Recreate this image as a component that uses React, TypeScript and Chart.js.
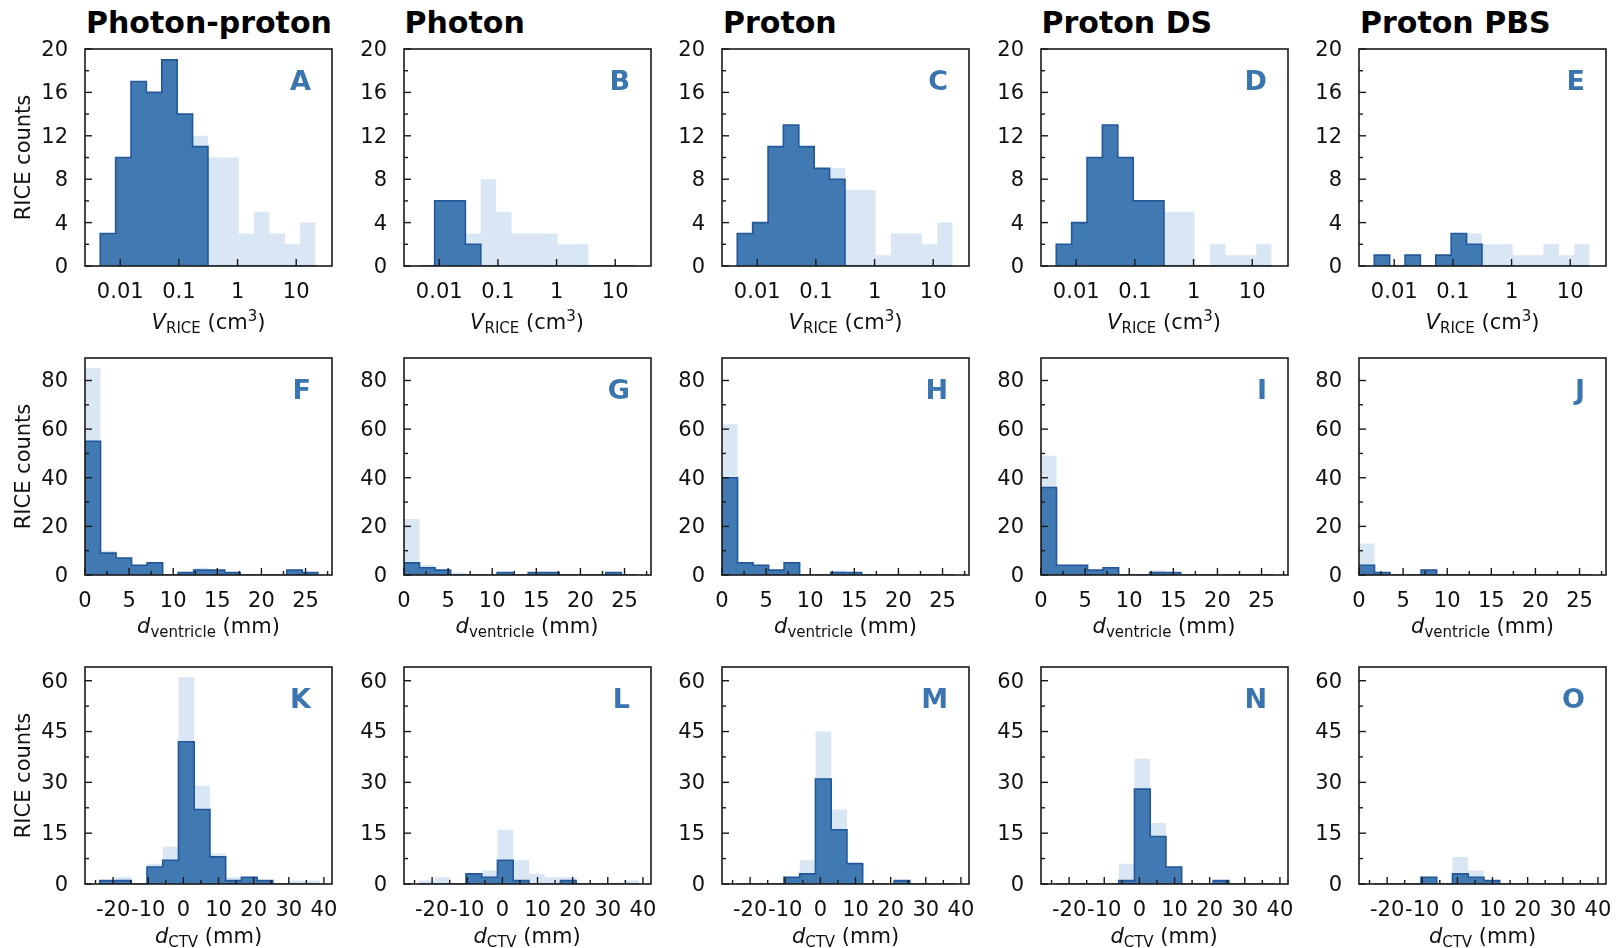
import React, { useEffect, useRef } from "react";
import { Chart, registerables } from "chart.js";
Chart.register(...registerables);

// ---------- text ----------
const panelTitles = ["Photon-proton", "Photon", "Proton", "Proton DS", "Proton PBS"];
const panelLetters = [
  ["A", "B", "C", "D", "E"],
  ["F", "G", "H", "I", "J"],
  ["K", "L", "M", "N", "O"],
];
const yAxisTitle = "RICE counts";

// ---------- row 1 : V_RICE (cm3), log bins ----------
const volumeBinEdges = [0.00457, 0.00836, 0.0153, 0.0279, 0.0511, 0.0935, 0.171, 0.313, 0.572, 1.045, 1.91, 3.49, 6.4, 11.7, 21.4];
const volumeAllA = [3, 10, 17, 16, 19, 14, 12, 10, 10, 3, 5, 3, 2, 4];
const volumeSubA = [3, 10, 17, 16, 19, 14, 11, 0, 0, 0, 0, 0, 0, 0];
const volumeAllB = [0, 6, 6, 3, 8, 5, 3, 3, 3, 2, 2, 0, 0, 0];
const volumeSubB = [0, 6, 6, 2, 0, 0, 0, 0, 0, 0, 0, 0, 0, 0];
const volumeAllC = [3, 4, 11, 13, 11, 9, 9, 7, 7, 1, 3, 3, 2, 4];
const volumeSubC = [3, 4, 11, 13, 11, 9, 8, 0, 0, 0, 0, 0, 0, 0];
const volumeAllD = [2, 4, 10, 13, 10, 6, 6, 5, 5, 0, 2, 1, 1, 2];
const volumeSubD = [2, 4, 10, 13, 10, 6, 6, 0, 0, 0, 0, 0, 0, 0];
const volumeAllE = [1, 0, 1, 0, 1, 3, 3, 2, 2, 1, 1, 2, 1, 2];
const volumeSubE = [1, 0, 1, 0, 1, 3, 2, 0, 0, 0, 0, 0, 0, 0];

// ---------- row 2 : d_ventricle (mm) ----------
const ventricleBinEdges = [0, 1.76, 3.52, 5.28, 7.04, 8.8, 10.56, 12.32, 14.08, 15.84, 17.6, 19.36, 21.12, 22.88, 24.64, 26.4];
const ventricleAllF = [85, 10, 7, 4, 5, 0, 1, 3, 2, 1, 0, 0, 0, 2, 1];
const ventricleSubF = [55, 9, 7, 4, 5, 0, 1, 2, 2, 1, 0, 0, 0, 2, 1];
const ventricleAllG = [23, 4, 2, 1, 0, 0, 1, 0, 1, 1, 0, 0, 0, 1, 0];
const ventricleSubG = [5, 3, 2, 0, 0, 0, 1, 0, 1, 1, 0, 0, 0, 1, 0];
const ventricleAllH = [62, 5, 4, 2, 5, 0, 0, 2, 1, 0, 0, 0, 0, 0, 0];
const ventricleSubH = [40, 5, 4, 2, 5, 0, 0, 1, 1, 0, 0, 0, 0, 0, 0];
const ventricleAllI = [49, 4, 4, 2, 3, 0, 0, 2, 1, 0, 0, 0, 0, 0, 0];
const ventricleSubI = [36, 4, 4, 2, 3, 0, 0, 1, 1, 0, 0, 0, 0, 0, 0];
const ventricleAllJ = [13, 1, 0, 0, 2, 0, 0, 0, 0, 0, 0, 0, 0, 0, 0];
const ventricleSubJ = [4, 1, 0, 0, 2, 0, 0, 0, 0, 0, 0, 0, 0, 0, 0];

// ---------- row 3 : d_CTV (mm) ----------
const ctvBinEdges = [-23.8, -19.32, -14.84, -10.36, -5.88, -1.4, 3.08, 7.56, 12.04, 16.52, 21.0, 25.48, 29.96, 34.44, 38.92];
const ctvAllK = [1, 2, 0, 6, 11, 61, 29, 9, 2, 2, 1, 0, 1, 1];
const ctvSubK = [1, 1, 0, 5, 7, 42, 22, 8, 1, 2, 1, 0, 0, 0];
const ctvAllL = [1, 2, 0, 3, 4, 16, 7, 3, 2, 2, 0, 0, 0, 1];
const ctvSubL = [0, 0, 0, 3, 2, 7, 1, 0, 0, 1, 0, 0, 0, 0];
const ctvAllM = [0, 0, 0, 2, 7, 45, 22, 6, 0, 0, 1, 0, 0, 0];
const ctvSubM = [0, 0, 0, 2, 3, 31, 16, 6, 0, 0, 1, 0, 0, 0];
const ctvAllN = [0, 0, 0, 0, 6, 37, 18, 5, 0, 0, 1, 0, 0, 0];
const ctvSubN = [0, 0, 0, 0, 1, 28, 14, 5, 0, 0, 1, 0, 0, 0];
const ctvAllO = [0, 0, 0, 2, 0, 8, 4, 1, 0, 0, 0, 0, 0, 0];
const ctvSubO = [0, 0, 0, 2, 0, 3, 2, 1, 0, 0, 0, 0, 0, 0];

// ---------- axes ----------
const volumeTicks = [0.01, 0.1, 1, 10];
const volumeTickLabels = ["0.01", "0.1", "1", "10"];
const ventricleTicks = [0, 5, 10, 15, 20, 25];
const ventricleMinorTicks = [2.5, 7.5, 12.5, 17.5, 22.5, 27.5];
const ctvTicks = [-20, -10, 0, 10, 20, 30, 40];
const ctvMinorTicks = [-25, -15, -5, 5, 15, 25, 35];
const countTicksRow1 = [0, 4, 8, 12, 16, 20];
const countMinorRow1 = [2, 6, 10, 14, 18];
const countTicksRow2 = [0, 20, 40, 60, 80];
const countMinorRow2 = [10, 30, 50, 70];
const countTicksRow3 = [0, 15, 30, 45, 60];
const countMinorRow3 = [7.5, 22.5, 37.5, 52.5];

const allCounts = [
  [volumeAllA, volumeAllB, volumeAllC, volumeAllD, volumeAllE],
  [ventricleAllF, ventricleAllG, ventricleAllH, ventricleAllI, ventricleAllJ],
  [ctvAllK, ctvAllL, ctvAllM, ctvAllN, ctvAllO],
];
const subCounts = [
  [volumeSubA, volumeSubB, volumeSubC, volumeSubD, volumeSubE],
  [ventricleSubF, ventricleSubG, ventricleSubH, ventricleSubI, ventricleSubJ],
  [ctvSubK, ctvSubL, ctvSubM, ctvSubN, ctvSubO],
];

const rows = [
  {
    edges: volumeBinEdges, xType: "logarithmic", xMin: 0.00251, xMax: 40.7,
    xTicks: volumeTicks, xLabels: volumeTickLabels, xMinor: [] as number[],
    yMax: 20, yTicks: countTicksRow1, yMinor: countMinorRow1, labelOffset: 50,
  },
  {
    edges: ventricleBinEdges, xType: "linear", xMin: 0, xMax: 28,
    xTicks: ventricleTicks, xLabels: ventricleTicks.map(String), xMinor: ventricleMinorTicks,
    yMax: 89.25, yTicks: countTicksRow2, yMinor: countMinorRow2, labelOffset: 51,
  },
  {
    edges: ctvBinEdges, xType: "linear", xMin: -28, xMax: 42.3,
    xTicks: ctvTicks, xLabels: ctvTicks.map(String), xMinor: ctvMinorTicks,
    yMax: 64.05, yTicks: countTicksRow3, yMinor: countMinorRow3, labelOffset: 52,
  },
];

// ---------- style ----------
const FONT = '"DejaVu Sans", "Noto Sans", sans-serif';
const DARK_FILL = "#4179b2";
const DARK_EDGE = "#22579a";
const LIGHT_FILL = "#d9e6f3";
const LETTER_COLOR = "#3a75b0";
const TICK_SIZE = 21;
const LABEL_SIZE = 21;

const PLOT_W = 247;
const PLOT_H = 217;
const PLOT_LEFT0 = 85;
const COL_STEP = 318.5;
const PLOT_TOP0 = 49;
const ROW_STEP = 309;
const CL = 75, CT = 34, CR = 25, CB = 45;

function stepPoints(edges: number[], counts: number[]) {
  const pts: { x: number; y: number }[] = [{ x: edges[0], y: 0 }];
  counts.forEach((c, i) => {
    pts.push({ x: edges[i], y: c });
    pts.push({ x: edges[i + 1], y: c });
  });
  pts.push({ x: edges[edges.length - 1], y: 0 });
  return pts;
}

const decorPlugin = {
  id: "decor",
  afterDatasetsDraw(chart: any, _args: any, opts: any) {
    const { ctx, chartArea: a } = chart;
    const x = chart.scales.x;
    const y = chart.scales.y;
    ctx.save();
    ctx.strokeStyle = "#1a1a1a";
    ctx.lineWidth = 1.4;
    const drawX = (vals: number[], len: number) => {
      vals.forEach((v) => {
        const px = x.getPixelForValue(v);
        if (px < a.left - 0.5 || px > a.right + 0.5) return;
        ctx.beginPath();
        ctx.moveTo(px, a.bottom);
        ctx.lineTo(px, a.bottom - len);
        ctx.stroke();
      });
    };
    const drawY = (vals: number[], len: number) => {
      vals.forEach((v) => {
        const py = y.getPixelForValue(v);
        if (py < a.top - 0.5 || py > a.bottom + 0.5) return;
        ctx.beginPath();
        ctx.moveTo(a.left, py);
        ctx.lineTo(a.left + len, py);
        ctx.stroke();
      });
    };
    drawX(opts.xMajor, 7);
    drawX(opts.xMinor, 4);
    drawY(opts.yMajor, 7);
    drawY(opts.yMinor, 4);
    ctx.lineWidth = 1.6;
    ctx.strokeRect(a.left, a.top, a.right - a.left, a.bottom - a.top);
    ctx.fillStyle = LETTER_COLOR;
    ctx.font = `bold 27px ${FONT}`;
    ctx.textAlign = "right";
    ctx.textBaseline = "alphabetic";
    ctx.fillText(opts.letter, a.right - 21, a.top + 40.5);
    ctx.restore();
  },
};

function Panel({ r, c }: { r: number; c: number }) {
  const ref = useRef<HTMLCanvasElement>(null);
  const row = rows[r];
  const W = CL + PLOT_W + CR;
  const H = CT + PLOT_H + CB;
  const left = PLOT_LEFT0 + COL_STEP * c - CL;
  const top = PLOT_TOP0 + ROW_STEP * r - CT;

  useEffect(() => {
    const chart = new Chart(ref.current as HTMLCanvasElement, {
      type: "scatter",
      data: {
        datasets: [
          {
            data: stepPoints(row.edges, subCounts[r][c]),
            showLine: true,
            fill: "origin",
            backgroundColor: DARK_FILL,
            borderColor: DARK_EDGE,
            borderWidth: 1.6,
            pointRadius: 0,
            pointHoverRadius: 0,
            tension: 0,
            order: 1,
          },
          {
            data: stepPoints(row.edges, allCounts[r][c]),
            showLine: true,
            fill: "origin",
            backgroundColor: LIGHT_FILL,
            borderColor: LIGHT_FILL,
            borderWidth: 0,
            pointRadius: 0,
            pointHoverRadius: 0,
            tension: 0,
            order: 2,
          },
        ],
      } as any,
      options: {
        responsive: false,
        animation: false,
        events: [],
        layout: { padding: { left: 0, top: CT, right: CR, bottom: 0 } },
        plugins: {
          legend: { display: false },
          tooltip: { enabled: false },
          decor: {
            letter: panelLetters[r][c],
            xMajor: row.xTicks,
            xMinor: row.xMinor,
            yMajor: row.yTicks,
            yMinor: row.yMinor,
          },
        } as any,
        scales: {
          x: {
            type: row.xType as any,
            min: row.xMin,
            max: row.xMax,
            grid: { display: false, drawTicks: false },
            border: { display: false },
            afterBuildTicks: (s: any) => {
              s.ticks = row.xTicks.map((v) => ({ value: v }));
            },
            afterFit: (s: any) => {
              s.height = CB;
            },
            ticks: {
              autoSkip: false,
              maxRotation: 0,
              padding: 14,
              color: "#111",
              font: { family: FONT, size: TICK_SIZE },
              callback: (_v: any, i: number) => row.xLabels[i],
            },
          },
          y: {
            type: "linear",
            min: 0,
            max: row.yMax,
            grid: { display: false, drawTicks: false },
            border: { display: false },
            afterBuildTicks: (s: any) => {
              s.ticks = row.yTicks.map((v) => ({ value: v }));
            },
            afterFit: (s: any) => {
              s.width = CL;
            },
            title: {
              display: c === 0,
              text: yAxisTitle,
              color: "#111",
              font: { family: FONT, size: LABEL_SIZE },
              padding: { top: 2, bottom: 0 },
            },
            ticks: {
              autoSkip: false,
              padding: 17,
              labelOffset: 1.5,
              color: "#111",
              font: { family: FONT, size: TICK_SIZE },
              callback: (v: any) => String(v),
            },
          },
        },
      },
      plugins: [decorPlugin],
    } as any);
    return () => chart.destroy();
  }, []);

  return (
    <canvas
      ref={ref}
      width={W}
      height={H}
      style={{ position: "absolute", left, top, width: W, height: H }}
    />
  );
}

function XLabel({ r, c }: { r: number; c: number }) {
  const left = PLOT_LEFT0 + COL_STEP * c;
  const centerY = PLOT_TOP0 + ROW_STEP * r + PLOT_H + rows[r].labelOffset;
  const sub = { fontSize: "15px", verticalAlign: "-4px", fontStyle: "normal" as const };
  let content: React.ReactNode;
  if (r === 0) {
    content = (
      <>
        <i>V</i>
        <span style={sub}>RICE</span> (cm<span style={{ fontSize: "15px", verticalAlign: "8px" }}>3</span>)
      </>
    );
  } else if (r === 1) {
    content = (
      <>
        <i>d</i>
        <span style={sub}>ventricle</span> (mm)
      </>
    );
  } else {
    content = (
      <>
        <i>d</i>
        <span style={sub}>CTV</span> (mm)
      </>
    );
  }
  return (
    <div
      style={{
        position: "absolute",
        left: left - 20,
        width: PLOT_W + 40,
        top: centerY - 14,
        height: 28,
        lineHeight: "28px",
        textAlign: "center",
        fontFamily: FONT,
        fontSize: `${LABEL_SIZE}px`,
        color: "#111",
        whiteSpace: "nowrap",
      }}
    >
      {content}
    </div>
  );
}

export default function App() {
  const cells: React.ReactNode[] = [];
  for (let r = 0; r < 3; r++) {
    for (let c = 0; c < 5; c++) {
      cells.push(<Panel key={`p${r}${c}`} r={r} c={c} />);
      cells.push(<XLabel key={`x${r}${c}`} r={r} c={c} />);
    }
  }
  return (
    <div
      style={{
        position: "absolute",
        left: 0,
        top: 0,
        width: 1616,
        height: 948,
        overflow: "hidden",
        background: "#fff",
      }}
    >
      {panelTitles.map((t, c) => (
        <div
          key={t}
          style={{
            position: "absolute",
            left: PLOT_LEFT0 + COL_STEP * c + 1,
            top: 8,
            lineHeight: "30px",
            fontFamily: FONT,
            fontWeight: "bold",
            fontSize: "30px",
            color: "#000",
            whiteSpace: "nowrap",
          }}
        >
          {t}
        </div>
      ))}
      {cells}
    </div>
  );
}
